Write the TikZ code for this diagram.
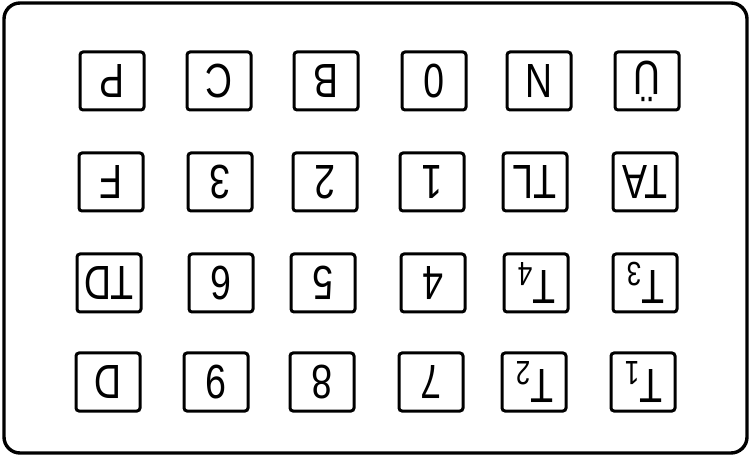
\documentclass[tikz,border=0pt]{standalone}
\usepackage{fontspec}
\usepackage{graphicx}
\setmainfont{Liberation Sans}
\usetikzlibrary{positioning}
\newcommand{\keylbl}[1]{\scalebox{0.78}[1]{#1}}

\begin{document}
\begin{tikzpicture}[
  x=0.5pt, y=-0.5pt,
  key/.style={draw=black, line width=1.5pt, rounded corners=1.5pt, fill=white,
              minimum width=32pt, minimum height=29pt, inner sep=0pt,
              font=\fontsize{24}{26}\selectfont, rotate=180},
  frame/.style={draw=black, line width=1.7pt, rounded corners=8pt},
]
\useasboundingbox (0,0) rectangle (753,458);

%% ---- outer case ----
\draw[frame] (4,3) rectangle (747,453);

%% ---- Row 1 ----
\node[key] (kP)  at (112,81) {\keylbl{P}};
\node[key] (kC)  at (219,81) {\keylbl{C}};
\node[key] (kB)  at (326,81) {\keylbl{B}};
\node[key] (k0)  at (434,81) {\keylbl{0}};
\node[key] (kN)  at (539,81) {\keylbl{N}};
\node[key] (kUe) at (647,81) {\keylbl{Ü}};

%% ---- Row 2 ----
\node[key] (kF)  at (111,182) {\keylbl{F}};
\node[key] (k3)  at (220,182) {\keylbl{3}};
\node[key] (k2)  at (325,182) {\keylbl{2}};
\node[key] (k1)  at (432,182) {\keylbl{1}};
\node[key] (kTL) at (535,182) {\keylbl{TL}};
\node[key] (kTA) at (645,182) {\keylbl{TA}};

%% ---- Row 3 ----
\node[key] (kTD) at (109,283) {\keylbl{TD}};
\node[key] (k6)  at (221,283) {\keylbl{6}};
\node[key] (k5)  at (323,283) {\keylbl{5}};
\node[key] (k4)  at (433,283) {\keylbl{4}};
\node[key] (kT4) at (536,283) {\keylbl{T\textsubscript{4}}};
\node[key] (kT3) at (645,283) {\keylbl{T\textsubscript{3}}};

%% ---- Row 4 ----
\node[key] (kD)  at (108,382) {\keylbl{D}};
\node[key] (k9)  at (216,382) {\keylbl{9}};
\node[key] (k8)  at (322,382) {\keylbl{8}};
\node[key] (k7)  at (431,382) {\keylbl{7}};
\node[key] (kT2) at (534,382) {\keylbl{T\textsubscript{2}}};
\node[key] (kT1) at (643,382) {\keylbl{T\textsubscript{1}}};

\end{tikzpicture}
\end{document}
